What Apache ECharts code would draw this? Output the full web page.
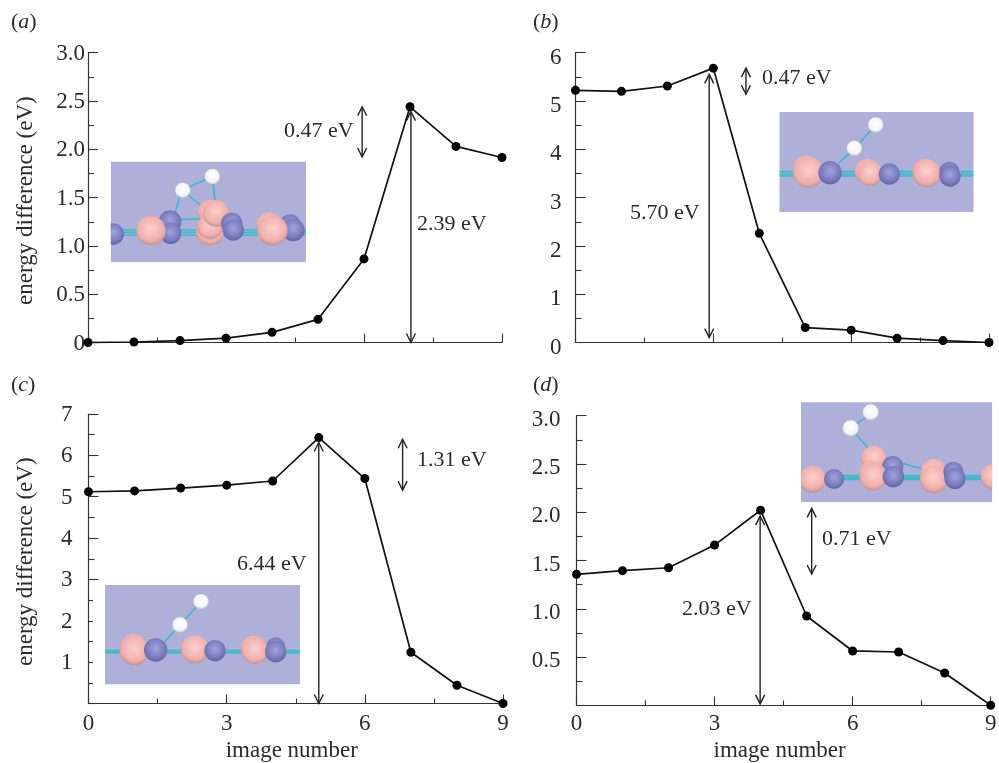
<!DOCTYPE html>
<html><head><meta charset="utf-8">
<style>html,body{margin:0;padding:0;background:#fff}#c{width:999px;height:763px}</style>
<script src="https://cdn.jsdelivr.net/npm/echarts@6/dist/echarts.min.js"></script>
</head><body><div id="c"></div>
<script>
const images = [0,1,2,3,4,5,6,7,8,9];
const energyA = [0,0.005,0.02,0.045,0.105,0.24,0.865,2.44,2.03,1.915];
const energyB = [5.22,5.2,5.31,5.68,2.26,0.31,0.255,0.09,0.04,0];
const energyC = [5.12,5.14,5.21,5.28,5.38,6.43,5.44,1.24,0.44,0];
const energyD = [1.357,1.395,1.425,1.66,2.02,0.925,0.563,0.552,0.335,0];
const yLabelsA = ['0','0.5','1.0','1.5','2.0','2.5','3.0'];
const yLabelsB = ['0','1','2','3','4','5','6'];
const yLabelsC = ['','1','2','3','4','5','6','7'];
const yLabelsD = ['','0.5','1.0','1.5','2.0','2.5','3.0'];
const xLabels = ['0','3','6','9'];
const arrowsA = [[7.02,0,2.39],[5.96,1.92,2.44]];
const arrowsB = [[2.91,0.1,5.55],[3.71,5.14,5.68]];
const arrowsC = [[5.0,0,6.31],[6.82,5.16,6.39]];
const arrowsD = [[3.99,0.015,1.96],[5.11,1.36,2.04]];
const notesA = ['0.47 eV','2.39 eV'];
const notesB = ['0.47 eV','5.70 eV'];
const notesC = ['6.44 eV','1.31 eV'];
const notesD = ['2.03 eV','0.71 eV'];

const FONT = '"Liberation Serif","Times New Roman",serif';
const INK = '#2b2b2b';
const panels = [
 {id:'a',data:energyA,arrows:arrowsA,notes:notesA,yl:yLabelsA,iv:0.5,max:3,left:88,top:52.7,w:414,h:289.8,m:3,dy:1,xl:false,yn:true,xm:9,xg:36,
  lab:[11,24],nt:[[284,133],[417,226]],
  box:[110.7,161.7,195.3,100.3],ox:0,oy:0,
  bonds:[[332,690,918,690],[332,697,918,697],[332,705,918,705],[545,570,525,640],[545,570,637,530],[637,530,645,600],[545,570,620,630],[510,660,640,655]],
  atoms:[['b',340,702,32],['b',510,665,34],['b',512,700,32],['p',453,692,44],['p',630,635,36],['p',630,695,42],['p',630,680,38],['p',648,640,40],['b',695,670,32],['b',700,690,32],['p',808,675,38],['b',870,675,32],['b',880,690,34],['p',818,692,45],['w',548,571,23],['w',637,530,23]]},
 {id:'b',data:energyB,arrows:arrowsB,notes:notesB,yl:yLabelsB,iv:1,max:6,left:575.5,top:52.7,w:413.5,h:289.8,m:14,dy:5,xl:false,yn:false,xm:9,xg:36,
  lab:[533,24],nt:[[762,80],[630,215]],
  box:[779.3,112,194.4,100],ox:510,oy:0,
  bonds:[[808,515,1391,515],[808,522,1391,522],[808,528,1391,528],[1035,445,985,490],[1035,445,1097,375]],
  atoms:[['p',888,505,38],['p',895,518,46],['b',960,518,35],['p',1072,515,38],['p',1080,520,38],['b',1138,522,32],['p',1245,515,38],['p',1250,520,42],['b',1318,515,30],['b',1320,528,32],['w',1033,445,23],['w',1097,375,23]]},
 {id:'c',data:energyC,arrows:arrowsC,notes:notesC,yl:yLabelsC,iv:1,max:7,left:88.5,top:414,w:414.5,h:289.5,m:16,dy:1,xl:true,yn:true,xm:9,xg:36,
  lab:[11,387],nt:[[237,566],[417,462]],
  box:[105,585,195,99.3],ox:0,oy:380,
  bonds:[[315,812,900,812],[315,818,900,818],[540,735,490,790],[540,735,603,665]],
  atoms:[['p',400,800,38],['p',403,812,44],['b',467,810,35],['p',585,808,42],['b',645,812,32],['p',760,805,38],['p',765,812,40],['b',827,800,28],['b',827,815,32],['w',540,735,23],['w',603,665,23]]},
 {id:'d',data:energyD,arrows:arrowsD,notes:notesD,yl:yLabelsD,iv:0.5,max:3,left:576.5,top:415.7,w:414.2,h:289.6,m:16,dy:4,xl:true,yn:false,xm:7,xg:34,
  lab:[533,387],nt:[[682,611],[822,541]],
  box:[801,402.3,191.3,99.7],ox:510,oy:380,
  bonds:[[873,287,1447,287],[873,293,1447,293],[873,298,1447,298],[1022,145,1082,100],[1022,145,1075,205],[1120,235,1270,275]],
  atoms:[['p',908,298,40],['b',972,297,30],['p',1092,235,38],['b',1148,260,32],['p',1085,280,38],['p',1090,290,42],['b',1150,290,32],['p',1270,275,38],['p',1272,298,42],['b',1330,275,30],['b',1335,295,32],['p',1450,290,38],['w',1022,145,24],['w',1082,97,24]]}
];
const shades = {p:['#fbd0cc','#f0aeac','#b58a87'],b:['#a2a4dc','#7678bc','#5a5c9c'],w:['#ffffff','#f4f4f4','#b4b4b4']};
const grids=[],xs=[],ys=[],series=[],gfx=[];
const lineAxis={lineStyle:{color:'#333',width:1.2}};
panels.forEach((p,i)=>{
  grids.push({left:p.left,top:p.top,width:p.w,height:p.h,containLabel:false,outerBoundsMode:'none'});
  xs.push({gridIndex:i,type:'value',min:0,max:9,interval:3,
    axisLine:{show:true,onZero:false,...lineAxis},
    axisTick:{show:true,inside:true,length:9,lineStyle:{color:'#333',width:1.1}},
    minorTick:{show:true,splitNumber:2,length:5,lineStyle:{color:'#333',width:1.1}},
    splitLine:{show:false},minorSplitLine:{show:false},
    axisLabel:{show:p.xl,margin:p.xm,color:INK,fontFamily:FONT,fontSize:23,showMinLabel:true,showMaxLabel:true,hideOverlap:false,
      formatter:v=>xLabels[Math.round(v/3)]},
    name:p.xl?'image number':'',nameLocation:'middle',nameGap:p.xg,
    nameTextStyle:{color:INK,fontFamily:FONT,fontSize:23,padding:[0,8,0,0]}});
  ys.push({gridIndex:i,type:'value',min:0,max:p.max,interval:p.iv,
    axisLine:{show:true,onZero:false,...lineAxis},
    axisTick:{show:true,inside:true,length:10,lineStyle:{color:'#333',width:1.1}},
    minorTick:{show:true,splitNumber:2,length:6,lineStyle:{color:'#333',width:1.1}},
    splitLine:{show:false},minorSplitLine:{show:false},
    axisLabel:{show:true,margin:p.m,color:INK,fontFamily:FONT,fontSize:23,showMinLabel:true,showMaxLabel:true,hideOverlap:false,
      rich:{v:{fontFamily:FONT,fontSize:23,color:INK,padding:[p.dy*2,0,0,0]}},
      formatter:v=>{const s=p.yl[Math.round(v/p.iv)];return s?'{v|'+s+'}':'';}},
    name:p.yn?'energy difference (eV)':'',nameLocation:'middle',nameGap:51,
    nameTextStyle:{color:INK,fontFamily:FONT,fontSize:23,padding:[0,6,0,0]}});
  series.push({type:'line',xAxisIndex:i,yAxisIndex:i,data:images.map((x,k)=>[x,p.data[k]]),clip:false,z:5,
    symbol:'circle',symbolSize:9,showSymbol:true,itemStyle:{color:'#000'},lineStyle:{color:'#111',width:1.7},animation:false});
  series.push({type:'custom',xAxisIndex:i,yAxisIndex:i,data:p.arrows,clip:false,z:4,animation:false,
    encode:{x:0,y:[1,2]},
    renderItem:(params,api)=>{
      const a=api.coord([api.value(0),api.value(1)]),b=api.coord([api.value(0),api.value(2)]);
      const st={stroke:'#222',lineWidth:1.4,fill:null};
      return {type:'group',children:[
        {type:'line',shape:{x1:a[0],y1:a[1],x2:b[0],y2:b[1]},style:st},
        {type:'polyline',shape:{points:[[b[0]-4.5,b[1]+9],[b[0],b[1]],[b[0]+4.5,b[1]+9]]},style:st},
        {type:'polyline',shape:{points:[[a[0]-4.5,a[1]-9],[a[0],a[1]],[a[0]+4.5,a[1]-9]]},style:st}]};
    }});
  gfx.push({type:'text',left:p.lab[0],top:p.lab[1]-13,z:10,style:{text:'({i|'+p.id+'})',font:'22px '+FONT,fill:INK,
    rich:{i:{fontStyle:'italic',fontFamily:FONT,fontSize:22,fill:INK}}}});
  p.notes.forEach((t,k)=>gfx.push({type:'text',left:p.nt[k][0],top:p.nt[k][1]-13,z:10,style:{text:t,font:'22px '+FONT,fill:INK}}));
  const [bx,by,bw,bh]=p.box;
  gfx.push({type:'rect',shape:{x:bx,y:by,width:bw,height:bh},z:1,style:{fill:'#aeb0d9'}});
  const X=v=>p.ox+v/3,Y=v=>p.oy+v/3;
  p.bonds.forEach(s=>gfx.push({type:'line',z:1,shape:{x1:X(s[0]),y1:Y(s[1]),x2:X(s[2]),y2:Y(s[3])},style:{stroke:'#35bcc9',lineWidth:1.6}}));
  p.atoms.forEach(t=>{const c=shades[t[0]];
    gfx.push({type:'circle',z:2,shape:{cx:X(t[1]),cy:Y(t[2]),r:t[3]/3},
      style:{fill:new echarts.graphic.RadialGradient(0.5,0.42,0.62,[{offset:0,color:c[0]},{offset:0.7,color:c[1]},{offset:1,color:c[2]}])}});});
  gfx.push({type:'rect',z:3,shape:{x:bx-12,y:by,width:12,height:bh},style:{fill:'#fff'}});
  gfx.push({type:'rect',z:3,shape:{x:bx+bw,y:by,width:16,height:bh},style:{fill:'#fff'}});
});
const chart=echarts.init(document.getElementById('c'),null,{renderer:'canvas'});
chart.setOption({animation:false,backgroundColor:'#fff',grid:grids,xAxis:xs,yAxis:ys,series,graphic:{elements:gfx}});
</script></body></html>
